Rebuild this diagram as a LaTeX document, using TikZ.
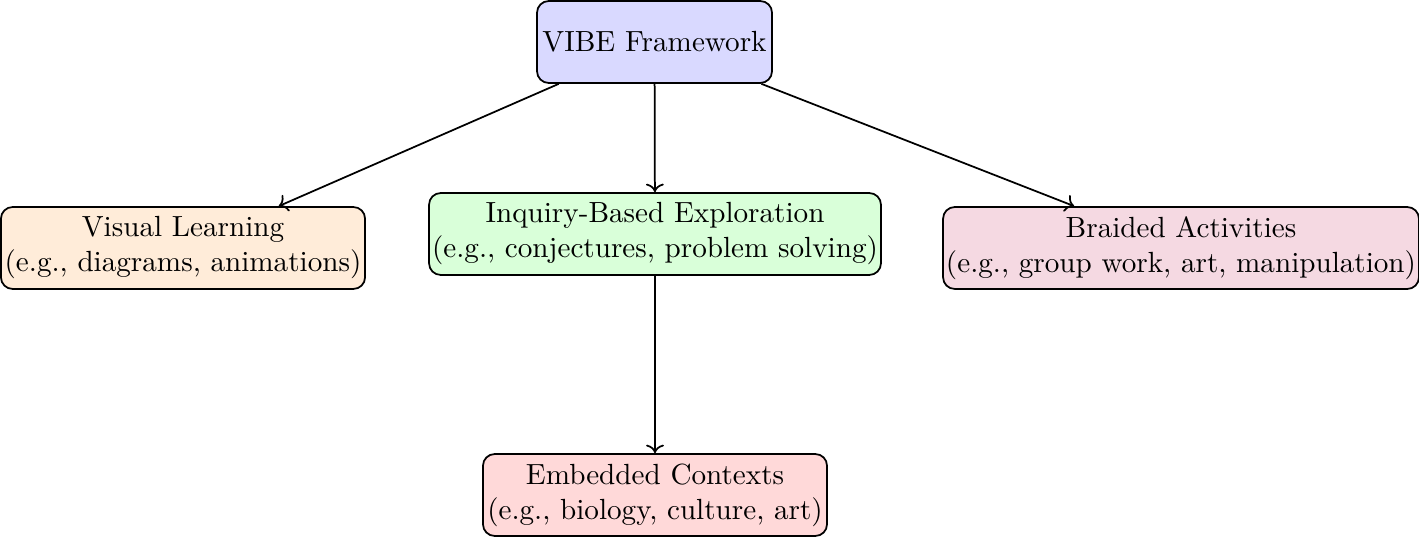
\documentclass[tikz,border=0pt]{standalone}
\usetikzlibrary{arrows.meta}
\begin{document}
\begin{tikzpicture}[x=0.343pt,y=-0.343pt,
  box/.style={draw, semithick, rounded corners=4pt, align=center, inner xsep=1pt, inner ysep=2pt, minimum height=28.1pt},
  link/.style={->, semithick}]
\useasboundingbox (0,0) rectangle (1419,537);
\node[box, fill=blue!15, minimum width=80.6pt] (vibe) at (654.5,42) {VIBE Framework};
\node[box, fill=orange!15, minimum width=124.9pt] (visual) at (183,248) {Visual Learning\\(e.g., diagrams, animations)};
\node[box, fill=green!15, minimum width=155pt] (inquiry) at (655,234) {Inquiry-Based Exploration\\(e.g., conjectures, problem solving)};
\node[box, fill=purple!15, minimum width=162.6pt] (braided) at (1181,248) {Braided Activities\\(e.g., group work, art, manipulation)};
\node[box, fill=red!15, minimum width=118pt] (embedded) at (655,495) {Embedded Contexts\\(e.g., biology, culture, art)};
\draw[link] (vibe) -- (visual);
\draw[link] (vibe) -- (inquiry);
\draw[link] (vibe) -- (braided);
\draw[link] (inquiry) -- (embedded);
\end{tikzpicture}
\end{document}
